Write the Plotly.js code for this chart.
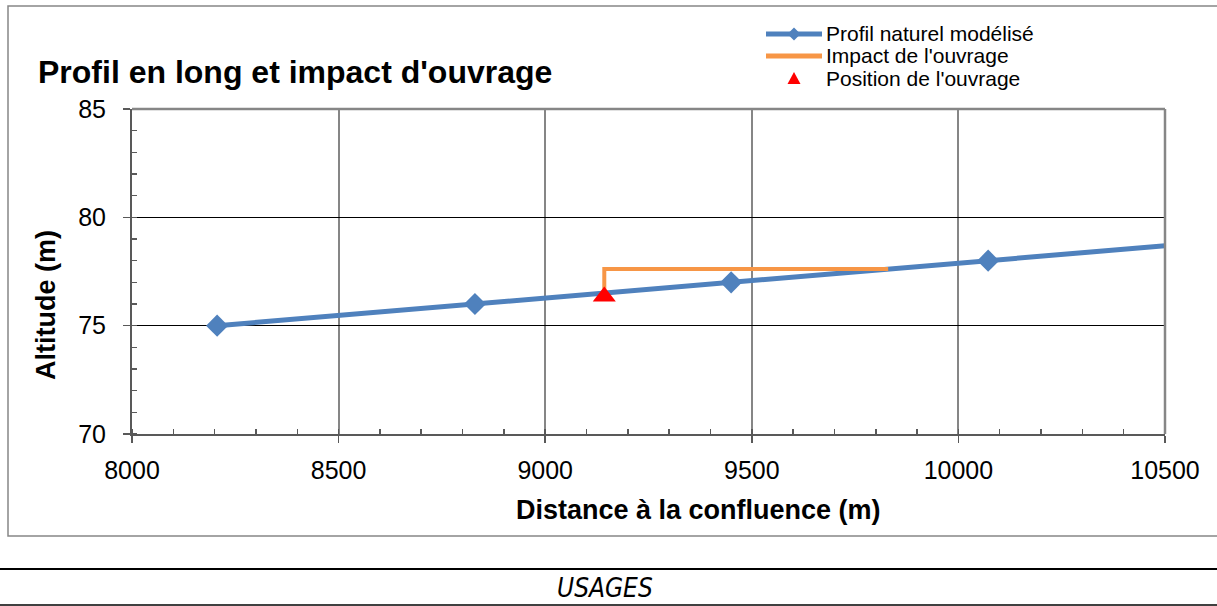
<!DOCTYPE html>
<html>
<head>
<meta charset="utf-8">
<script src="https://cdn.plot.ly/plotly-3.0.1.min.js"></script>
<style>html,body{margin:0;padding:0;background:#fff;}#chart{width:1217px;height:606px;}</style>
</head>
<body>
<div id="chart"></div>
<script>
// Data
const profilX = [8206, 8830, 9450, 10072, 10694];
const profilY = [75, 76, 77, 78, 79];
const impactX = [9143, 9143, 9830];
const impactY = [76.4, 77.62, 77.62];
const ouvrageX = [9143];
const ouvrageY = [76.35];
const xTicks = [8000, 8500, 9000, 9500, 10000, 10500];
const yTicks = [70, 75, 80, 85];
const seriesNames = ["Profil naturel modélisé", "Impact de l'ouvrage", "Position de l'ouvrage"];

const BLUE = '#4F81BD', ORANGE = '#F79646', RED = '#FF0000';

// layout helpers: convert page pixels to paper coordinates
const L = 132, R = 1165, T = 109, B = 434;
const px = v => (v - L) / (R - L);
const py = v => (B - v) / (B - T);

const traces = [
  {x: profilX, y: profilY, name: seriesNames[0], type: 'scatter', mode: 'lines+markers',
   line: {color: BLUE, width: 5}, marker: {symbol: 'diamond', size: 17, color: BLUE}},
  {x: impactX, y: impactY, name: seriesNames[1], type: 'scatter', mode: 'lines',
   line: {color: ORANGE, width: 4}},
  {x: ouvrageX, y: ouvrageY, name: seriesNames[2], type: 'scatter', mode: 'markers',
   marker: {symbol: 'triangle-up', size: 20, color: RED}}
];

// custom legend (layout decoration)
const legRows = [34, 56, 78];
const legLineX0 = 766, legLineX1 = 822, legTextX = 824;
const legendAnn = seriesNames.map((n, i) => ({
  text: n, xref: 'paper', yref: 'paper', x: px(legTextX), y: py(legRows[i]),
  xanchor: 'left', yanchor: 'middle', showarrow: false, font: {size: 21, color: '#000'}
}));
const dm = (cx, cy, r) => `M ${px(cx - r)} ${py(cy)} L ${px(cx)} ${py(cy - r)} L ${px(cx + r)} ${py(cy)} L ${px(cx)} ${py(cy + r)} Z`;
const tri = (cx, cy, w, h) => `M ${px(cx - w/2)} ${py(cy + h/2)} L ${px(cx + w/2)} ${py(cy + h/2)} L ${px(cx)} ${py(cy - h/2)} Z`;
const legendShapes = [
  {type: 'line', xref: 'paper', yref: 'paper', x0: px(legLineX0), x1: px(legLineX1), y0: py(legRows[0]), y1: py(legRows[0]),
   line: {color: BLUE, width: 5}},
  {type: 'path', xref: 'paper', yref: 'paper', path: dm((legLineX0 + legLineX1) / 2, legRows[0], 6.5),
   fillcolor: BLUE, line: {width: 0}},
  {type: 'line', xref: 'paper', yref: 'paper', x0: px(legLineX0), x1: px(legLineX1), y0: py(legRows[1]), y1: py(legRows[1]),
   line: {color: ORANGE, width: 5}},
  {type: 'path', xref: 'paper', yref: 'paper', path: tri((legLineX0 + legLineX1) / 2, legRows[2], 13, 12),
   fillcolor: RED, line: {width: 0}}
];

const layout = {
  width: 1217, height: 606,
  margin: {l: L, r: 1217 - R, t: T, b: 606 - B},
  paper_bgcolor: '#ffffff', plot_bgcolor: '#ffffff',
  font: {family: 'Arial, "Liberation Sans", sans-serif', color: '#000'},
  showlegend: false,
  title: {text: '<b>Profil en long et impact d\'ouvrage</b>', xref: 'container', yref: 'container',
          x: 38/1217, xanchor: 'left', y: 1 - 72/606, yanchor: 'middle',
          font: {size: 32, color: '#000'}},
  xaxis: {range: [8000, 10500], tickvals: xTicks, ticktext: xTicks.map(String),
          showgrid: true, gridcolor: '#868686', gridwidth: 2,
          showline: true, linecolor: '#595959', linewidth: 2,
          ticks: 'outside', ticklen: 7, tickcolor: '#595959', tickwidth: 1.5,
          ticklabelstandoff: 6,
          minor: {dtick: 100, ticks: 'inside', ticklen: 5, tickcolor: '#595959', showgrid: false},
          tickfont: {size: 25}, zeroline: false, fixedrange: true},
  yaxis: {range: [70, 85], tickvals: yTicks, ticktext: yTicks.map(String),
          showgrid: true, gridcolor: '#000000', gridwidth: 1,
          showline: true, linecolor: '#595959', linewidth: 2,
          ticks: 'outside', ticklen: 7, tickcolor: '#595959', tickwidth: 1.5,
          ticklabelstandoff: 12,
          minor: {dtick: 1, ticks: 'inside', ticklen: 5, tickcolor: '#595959', showgrid: false},
          tickfont: {size: 25}, zeroline: false, fixedrange: true},
  annotations: [
    {text: '<b>Distance à la confluence (m)</b>', xref: 'paper', yref: 'paper',
     x: px(698), y: py(510), xanchor: 'center', yanchor: 'middle',
     showarrow: false, font: {size: 27, color: '#000'}},
    {text: '<b>Altitude (m)</b>', xref: 'paper', yref: 'paper',
     x: px(46), y: py(305), xanchor: 'center', yanchor: 'middle', textangle: -90,
     showarrow: false, font: {size: 27, color: '#000'}},
    {text: '<i>USAGES</i>', xref: 'paper', yref: 'paper',
     x: px(605), y: py(588), xanchor: 'center', yanchor: 'middle',
     showarrow: false, font: {size: 26, color: '#000', family: '"Liberation Sans Narrow", "DejaVu Sans Condensed", sans-serif'}}
  ].concat(legendAnn),
  shapes: [
    // outer chart border
    {type: 'rect', xref: 'paper', yref: 'paper', x0: px(8), x1: px(1230),
     y0: py(536), y1: py(6), line: {color: '#868686', width: 1.5}, layer: 'below'},
    // top & right plot border
    {type: 'line', xref: 'paper', yref: 'paper', x0: 0, x1: 1, y0: 1, y1: 1,
     line: {color: '#868686', width: 2.5}, layer: 'above'},
    {type: 'line', xref: 'paper', yref: 'paper', x0: 1, x1: 1, y0: 0, y1: 1,
     line: {color: '#868686', width: 2.5}, layer: 'above'},
    // USAGES lines
    {type: 'line', xref: 'paper', yref: 'paper', x0: px(0), x1: px(1217),
     y0: py(569), y1: py(569), line: {color: '#000', width: 2}},
    {type: 'line', xref: 'paper', yref: 'paper', x0: px(0), x1: px(1217),
     y0: py(605), y1: py(605), line: {color: '#000', width: 1.5}}
  ].concat(legendShapes)
};

Plotly.newPlot('chart', traces, layout, {displayModeBar: false, staticPlot: true});
</script>
</body>
</html>
